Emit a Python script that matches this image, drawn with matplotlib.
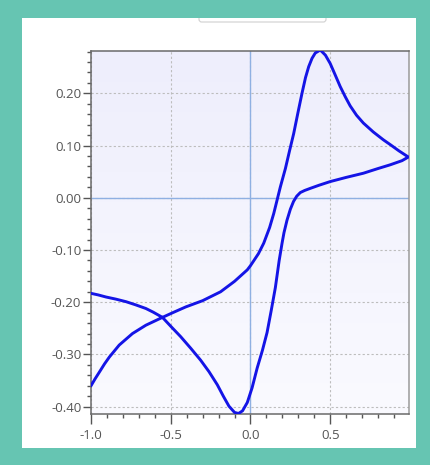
import matplotlib

matplotlib.use("Agg")
import matplotlib.pyplot as plt
import numpy as np
from matplotlib.patches import Rectangle, FancyBboxPatch
from matplotlib.ticker import MultipleLocator, FormatStrFormatter

# forward (anodic) sweep: potential / current
fwd_e = [-1.0, -0.975, -0.948, -0.915, -0.885, -0.823, -0.74, -0.656, -0.552, -0.48,
         -0.406, -0.3, -0.1875, -0.1, -0.02, 0.0, 0.05, 0.083, 0.12, 0.146,
         0.1875, 0.219, 0.245, 0.271, 0.297, 0.323, 0.345, 0.365, 0.386, 0.406,
         0.4375, 0.47, 0.5, 0.53, 0.5625, 0.595, 0.625, 0.665, 0.708, 0.77,
         0.833, 0.88, 0.93, 0.99]
fwd_i = [-0.360, -0.347, -0.334, -0.318, -0.305, -0.282, -0.260, -0.244, -0.229, -0.219,
         -0.209, -0.197, -0.180, -0.160, -0.138, -0.130, -0.107, -0.087, -0.057, -0.030,
         0.021, 0.056, 0.090, 0.123, 0.162, 0.200, 0.230, 0.251, 0.267, 0.277,
         0.283, 0.273, 0.257, 0.236, 0.213, 0.193, 0.176, 0.158, 0.143, 0.126,
         0.111, 0.101, 0.090, 0.078]

# reverse (cathodic) sweep
rev_e = [0.99, 0.95, 0.875, 0.8, 0.708, 0.6, 0.5, 0.43, 0.375, 0.34,
         0.3125, 0.29, 0.27, 0.25, 0.229, 0.21, 0.198, 0.18, 0.156, 0.13,
         0.104, 0.075, 0.042, 0.01, -0.02, -0.05, -0.075, -0.1, -0.135, -0.17,
         -0.208, -0.26, -0.3125, -0.375, -0.4375, -0.5, -0.552, -0.61, -0.656, -0.72,
         -0.78, -0.845, -0.906, -0.955, -1.0]
rev_i = [0.078, 0.071, 0.063, 0.056, 0.047, 0.039, 0.031, 0.024, 0.018, 0.014,
         0.010, 0.003, -0.007, -0.022, -0.043, -0.067, -0.087, -0.120, -0.172, -0.216,
         -0.258, -0.292, -0.326, -0.364, -0.392, -0.408, -0.413, -0.411, -0.399, -0.380,
         -0.358, -0.333, -0.311, -0.288, -0.266, -0.246, -0.229, -0.219, -0.212, -0.205,
         -0.199, -0.194, -0.190, -0.186, -0.183]

W, H = 430, 465
TEAL = "#66c5b2"

fig = plt.figure(figsize=(W / 100, H / 100), dpi=100, facecolor=TEAL)

# white card
panel = Rectangle((22 / W, 1 - 448 / H), (416 - 22) / W, (448 - 18) / H,
                  transform=fig.transFigure, facecolor="white", edgecolor="none", zorder=-2)
fig.patches.append(panel)
# hidden toolbar tab at top of card
tab = FancyBboxPatch((199 / W, 1 - 22 / H), (326 - 199) / W, 12 / H,
                     boxstyle="round,pad=0,rounding_size=0.006",
                     transform=fig.transFigure, facecolor="white", edgecolor="#d0d0d0",
                     lw=0.8, zorder=-1)
tab.set_clip_path(panel)
fig.patches.append(tab)

ax = fig.add_axes([91 / W, 1 - 414 / H, (409 - 91) / W, (414 - 51) / H])
ax.set_zorder(1)
ax.set_facecolor("none")

# soft lavender gradient background
grad = np.linspace(0, 1, 256).reshape(-1, 1)
cmap = matplotlib.colors.LinearSegmentedColormap.from_list("bg", ["#fafaff", "#eeeefc"])
ax.imshow(grad, cmap=cmap, aspect="auto", extent=[0, 1, 0, 1], origin="lower",
          transform=ax.transAxes, zorder=0)

ax.set_xlim(-1.0, 0.994)
ax.set_ylim(-0.414, 0.281)

ax.xaxis.set_major_locator(MultipleLocator(0.5))
ax.xaxis.set_minor_locator(MultipleLocator(0.1))
ax.yaxis.set_major_locator(MultipleLocator(0.1))
ax.yaxis.set_minor_locator(MultipleLocator(0.02))
ax.xaxis.set_major_formatter(FormatStrFormatter("%.1f"))
ax.yaxis.set_major_formatter(FormatStrFormatter("%.2f"))

ax.grid(True, which="major", color="#bdbdbd", ls=(0, (2, 2)), lw=0.8, zorder=1)
ax.axhline(0, color="#8fb0e2", lw=1.0, zorder=2)
ax.axvline(0, color="#8fb0e2", lw=1.0, zorder=2)

ax.plot(fwd_e + rev_e, fwd_i + rev_i, color="#1414e6", lw=2.1,
        solid_joinstyle="round", solid_capstyle="round", zorder=3, clip_on=True)

for side in ["left", "bottom", "top", "right"]:
    ax.spines[side].set_color("#6a6a6a")
    ax.spines[side].set_linewidth(1.1)
ax.spines["right"].set_color("#9a9a9a")

ax.tick_params(which="major", direction="out", length=6, width=1, color="#555555",
               labelsize=9.5, labelcolor="#555555", pad=1)
ax.tick_params(which="minor", direction="out", length=3, width=1, color="#555555")
ax.tick_params(axis="x", which="major", length=7, pad=4)
for lbl in ax.get_xticklabels() + ax.get_yticklabels():
    lbl.set_family(["Open Sans", "DejaVu Sans"])

fig.savefig("out.png", dpi=100, facecolor=TEAL)
